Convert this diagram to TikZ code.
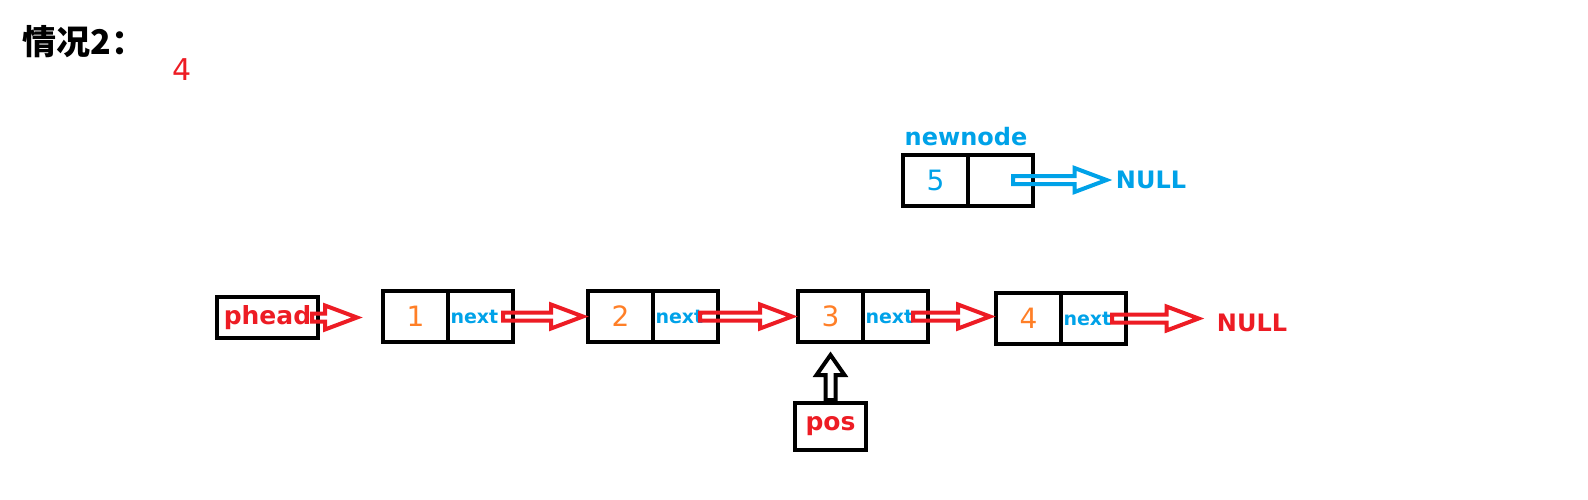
\documentclass[tikz,border=0pt]{standalone}
\usepackage{fontspec}
\setmainfont{DejaVu Sans}
\newfontfamily\cjk{Noto Sans CJK SC}
\usetikzlibrary{calc}
\definecolor{pred}{HTML}{ED1C24}
\definecolor{pblue}{HTML}{00A2E8}
\definecolor{porange}{HTML}{FF7F27}
\tikzset{
  cell/.style={rectangle,draw=black,line width=2pt,minimum width=32.5pt,minimum height=25.5pt,inner sep=0pt,outer sep=0pt},
  num/.style={text=porange,font=\fontsize{14}{14}\selectfont},
  nxt/.style={text=pblue,font=\bfseries\fontsize{9.5}{9.5}\selectfont,text width=30pt,align=left},
  namebox/.style={rectangle,draw=black,line width=2pt,inner sep=0pt,outer sep=0pt,text=pred,font=\bfseries\fontsize{12.5}{12.5}\selectfont},
  nulltext/.style={inner sep=0pt,font=\bfseries\fontsize{12}{12}\selectfont},
  rblock/.style={draw=#1,line width=2pt,to path={let \p1=(\tikztostart), \p2=(\tikztotarget) in
    (\x1,\y1+2pt) -- (\x2-16pt,\y1+2pt) -- (\x2-16pt,\y1+6pt) -- (\x2,\y1)
    -- (\x2-16pt,\y1-6pt) -- (\x2-16pt,\y1-2pt) -- (\x1,\y1-2pt) -- cycle}},
  ublock/.style={draw=#1,line width=2pt,to path={let \p1=(\tikztostart), \p2=(\tikztotarget) in
    (\x1-2.5pt,\y1) -- (\x1-2.5pt,\y2-10pt) -- (\x1-7pt,\y2-10pt) -- (\x1,\y2)
    -- (\x1+7pt,\y2-10pt) -- (\x1+2.5pt,\y2-10pt) -- (\x1+2.5pt,\y1) -- cycle}}
}
\begin{document}
\begin{tikzpicture}[x=0.5pt,y=-0.5pt]
\useasboundingbox (0,0) rectangle (1588,499);
%Title
\node at (22,42)[anchor=west,inner sep=0pt] (title) {\cjk\bfseries\fontsize{17}{17}\selectfont 情况2：};
\node at (182,70)[text=pred,font=\fontsize{15}{15}\selectfont] (four) {4};
%Head
\node at (267.5,317.5)[namebox,minimum width=50.5pt,minimum height=20.5pt] (phead) {phead};
%List
\node at (415.5,316.5)[cell,num] (c1) {1};
\node at (c1.east)[cell,nxt,right] (n1) {next};
\node at (620.5,316.5)[cell,num] (c2) {2};
\node at (c2.east)[cell,nxt,right] (n2) {next};
\node at (830.5,316.5)[cell,num] (c3) {3};
\node at (c3.east)[cell,nxt,right] (n3) {next};
\node at (1028.5,318.5)[cell,num] (c4) {4};
\node at (c4.east)[cell,nxt,right] (n4) {next};
\node at (1252,323)[nulltext,text=pred] (null1) {NULL};
%New node
\node at (935.5,180)[cell,num,text=pblue] (c5) {5};
\node at (c5.east)[cell,right] (n5) {};
\node at (966,137)[inner sep=0pt,text=pblue,font=\bfseries\fontsize{12}{12}\selectfont] (newnode) {newnode};
\node at (1151,180)[nulltext,text=pblue] (null2) {NULL};
%Pos
\node at (830.5,426.5)[namebox,minimum width=35.5pt,minimum height=23.5pt] (pos) {pos};
%Links
\draw[rblock=pred] ([xshift=-3pt]phead.east) to ([xshift=-13pt]c1.west);
\draw[rblock=pred] ([xshift=-5pt]n1.east) to ([xshift=-2.5pt]c2.west);
\draw[rblock=pred] ([xshift=-9pt]n2.east) to ([xshift=-3pt]c3.west);
\draw[rblock=pred] ([xshift=-7.5pt]n3.east) to ([xshift=-3pt]c4.west);
\draw[rblock=pred] ([xshift=-7pt]n4.east) to ([xshift=-9pt]null1.west);
\draw[rblock=pblue] ([xshift=-10pt]n5.east) to ([xshift=-4.5pt]null2.west);
\draw[ublock=black] ([yshift=1.5pt]pos.north) to ([yshift=-6.5pt]c3.south);
\end{tikzpicture}
\end{document}
